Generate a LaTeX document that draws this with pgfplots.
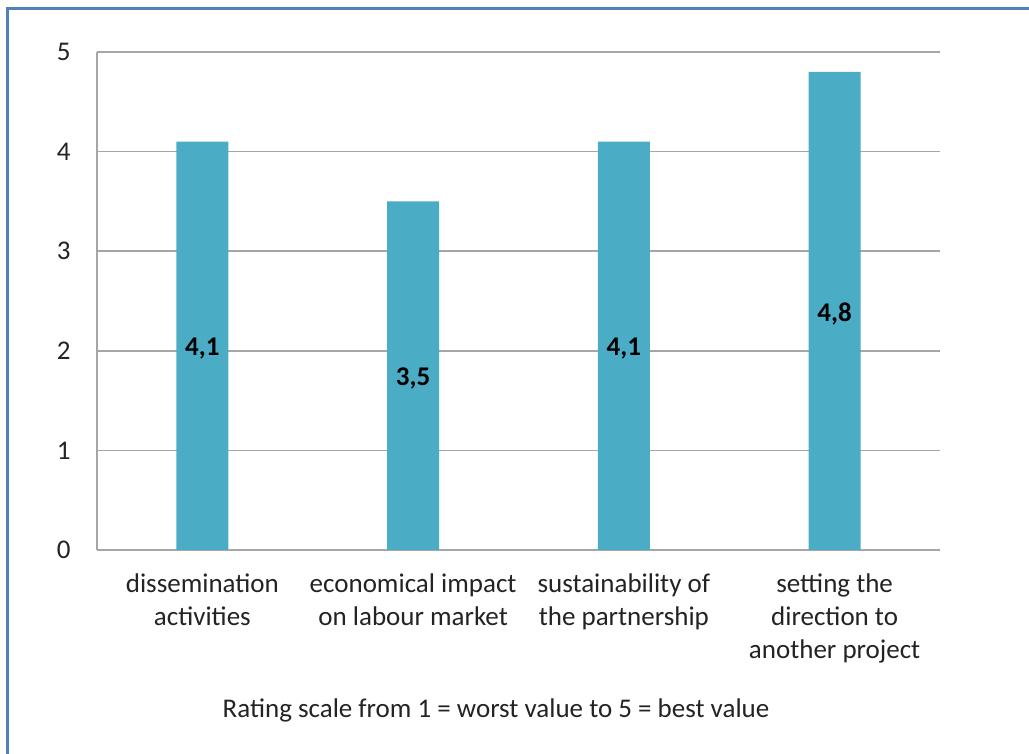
\documentclass[border=0pt]{standalone}
\usepackage{pgfplots}
\pgfplotsset{compat=1.18}
\usepackage{fontspec}
\setmainfont{Carlito}
\definecolor{barc}{RGB}{75,172,198}
\definecolor{gridc}{RGB}{166,166,166}
\definecolor{framec}{RGB}{79,129,189}
\definecolor{txt}{RGB}{35,35,35}
\begin{document}
\fontsize{13.5pt}{16.5pt}\selectfont
\begin{tikzpicture}
\useasboundingbox (0,0) rectangle (514.5pt,377pt);
\draw[framec, line width=1.5pt] (3.5pt,0) -- (3.5pt,372.5pt) -- (514.5pt,372.5pt);
\begin{axis}[
  at={(48.5pt,102pt)}, anchor=south west,
  scale only axis, width=421.5pt, height=249pt,
  xmin=-0.5, xmax=3.5, ymin=0, ymax=5,
  ybar, bar width=26pt,
  axis x line=bottom, axis y line=left,
  axis line style={-, draw=gridc, line width=0.75pt},
  major tick length=0pt,
  ytick={0,1,2,3,4,5},
  xtick={0,1,2,3},
  xticklabels={{dissemination\\activities},{economical impact\\on labour market},{sustainability of\\the partnership},{setting the\\direction to\\another project}},
  ymajorgrids,
  grid style={draw=gridc, line width=0.75pt},
  /pgf/number format/assume math mode=true,
  tick label style={font=\fontsize{13.5pt}{16.5pt}\selectfont, text=txt},
  xticklabel style={align=center, yshift=-7pt},
  yticklabel style={xshift=-8.5pt},
  visualization depends on=rawy \as \rawy,
  nodes near coords={\pgfmathprintnumber[fixed,precision=1,use comma,assume math mode=true]{\rawy}},
  nodes near coords style={font=\fontsize{13.5pt}{16.5pt}\selectfont\bfseries, text=black, anchor=center, yshift=-1.5pt, shift={(axis direction cs:0,-\rawy/2)}},
]
\addplot[fill=barc, draw=none] coordinates {(0,4.1) (1,3.5) (2,4.1) (3,4.8)};
\end{axis}
\node[text=txt, font=\fontsize{13.5pt}{16.5pt}\selectfont] at (248pt,22pt) {Rating scale from 1 = worst value to 5 = best value};
\end{tikzpicture}
\end{document}
